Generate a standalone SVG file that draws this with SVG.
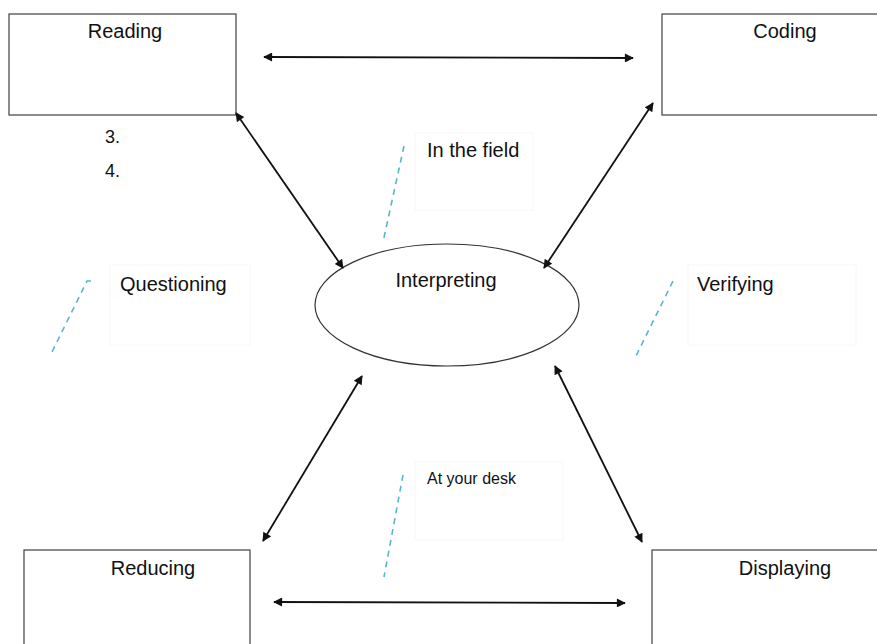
<svg xmlns="http://www.w3.org/2000/svg" width="877" height="644" viewBox="0 0 877 644">
<style>
  .box { fill: #fff; stroke: #404040; stroke-width: 1.2; }
  .lbl { font-family: "Liberation Sans", Arial, sans-serif; font-size: 20px; fill: #111; }
  .num { font-family: "Liberation Sans", Arial, sans-serif; font-size: 18px; fill: #111; }
  .small { font-family: "Liberation Sans", Arial, sans-serif; font-size: 16px; fill: #111; }
  .conn { stroke: #111; stroke-width: 1.8; fill: none; marker-start: url(#ah); marker-end: url(#ah); }
  .dash { stroke: #5ab4cf; stroke-width: 1.6; fill: none; stroke-dasharray: 6 5; }
  .faint { fill: none; stroke: #f8f8f8; stroke-width: 1; }
</style>
<defs>
  <marker id="ah" viewBox="0 0 10 10" refX="9" refY="5" markerWidth="10" markerHeight="9" orient="auto-start-reverse" markerUnits="userSpaceOnUse">
    <path d="M0,0 L10,5 L0,10 z" fill="#111"/>
  </marker>
</defs>
<rect width="877" height="644" fill="#fff"/>

<g id="node-reading">
  <rect class="box" x="9" y="14" width="227" height="101"/>
  <text class="lbl" x="125" y="38" text-anchor="middle">Reading</text>
</g>
<g id="node-coding">
  <rect class="box" x="662" y="14" width="230" height="101"/>
  <text class="lbl" x="785" y="38" text-anchor="middle">Coding</text>
</g>
<g id="node-reducing">
  <rect class="box" x="24" y="550" width="226" height="110"/>
  <text class="lbl" x="153" y="575" text-anchor="middle">Reducing</text>
</g>
<g id="node-displaying">
  <rect class="box" x="652" y="550" width="240" height="110"/>
  <text class="lbl" x="785" y="575" text-anchor="middle">Displaying</text>
</g>
<g id="node-interpreting">
  <ellipse cx="447" cy="305" rx="132" ry="61" fill="#fff" stroke="#333" stroke-width="1.2"/>
  <text class="lbl" x="446" y="287" text-anchor="middle">Interpreting</text>
</g>

<g id="list">
  <text class="num" x="105" y="143">3.</text>
  <text class="num" x="105" y="177">4.</text>
</g>

<g id="label-field">
  <rect class="faint" x="415" y="133" width="118" height="77"/>
  <path class="dash" d="M404,146 L383,242"/>
  <text class="lbl" x="427" y="157">In the field</text>
</g>
<g id="label-questioning">
  <rect class="faint" x="110" y="265" width="140" height="80"/>
  <path class="dash" d="M91,281 L87,281 L50,356"/>
  <text class="lbl" x="120" y="291">Questioning</text>
</g>
<g id="label-verifying">
  <rect class="faint" x="688" y="265" width="168" height="80"/>
  <path class="dash" d="M673,281 L636,356"/>
  <text class="lbl" x="697" y="291">Verifying</text>
</g>
<g id="label-desk">
  <rect class="faint" x="415" y="462" width="148" height="78"/>
  <path class="dash" d="M403,475 L384,577"/>
  <text class="small" x="427" y="484">At your desk</text>
</g>

<g id="connectors">
  <line class="conn" x1="264" y1="57" x2="633" y2="58"/>
  <line class="conn" x1="274" y1="602" x2="625" y2="603"/>
  <line class="conn" x1="236" y1="113" x2="343" y2="268"/>
  <line class="conn" x1="653" y1="103" x2="544" y2="268"/>
  <line class="conn" x1="263" y1="541" x2="362" y2="376"/>
  <line class="conn" x1="555" y1="366" x2="642" y2="542"/>
</g>
</svg>
